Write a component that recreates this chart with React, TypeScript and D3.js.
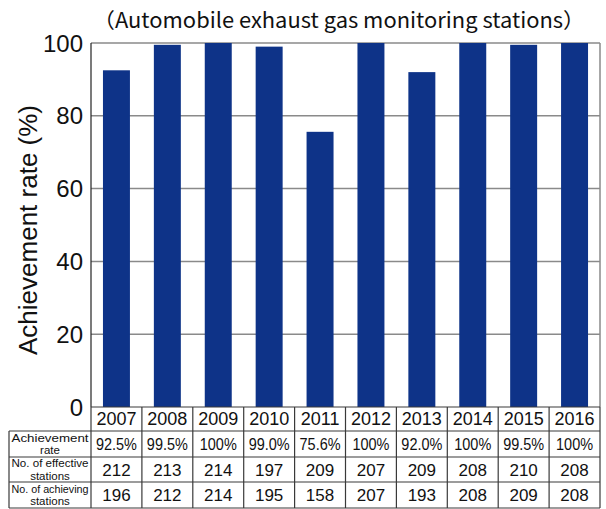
import React from "react";
import * as d3 from "d3";

const years = ["2007", "2008", "2009", "2010", "2011", "2012", "2013", "2014", "2015", "2016"];
const rates = [92.5, 99.5, 100, 99.0, 75.6, 100, 92.0, 100, 99.5, 100];
const rateLabels = ["92.5%", "99.5%", "100%", "99.0%", "75.6%", "100%", "92.0%", "100%", "99.5%", "100%"];
const effective = [212, 213, 214, 197, 209, 207, 209, 208, 210, 208];
const achieving = [196, 212, 214, 195, 158, 207, 193, 208, 209, 208];
const yTicks = [0, 20, 40, 60, 80, 100];
const title = "（Automobile exhaust gas monitoring stations）";
const yLabel = "Achievement rate (%)";
const rowLabels = [
  ["Achievement", "rate"],
  ["No. of effective", "stations"],
  ["No. of achieving", "stations"],
];

const W = 606;
const H = 509;
const L = 91;
const R = 600;
const T = 43;
const B = 407;
const BAR = "#0e3388";
const GRID = "#8a8a8a";
const LINE = "#3a3a3a";
const FONT = "'Liberation Sans', Arial, 'Noto Sans CJK JP', sans-serif";

export default function App() {
  const y = d3.scaleLinear().domain([0, 100]).range([B, T]);
  const pad = 0.47;
  const x = d3.scaleBand<string>().domain(years).range([L, R]).paddingInner(pad).paddingOuter(pad / 2);
  const col = d3.scaleBand<string>().domain(years).range([L, R]).padding(0);

  const rowEdges = [B, 431, 457, 482, 508];
  const dataRows = [rateLabels, effective.map(String), achieving.map(String)];

  return (
    <svg width={W} height={H} style={{ position: "absolute", left: 0, top: 0, background: "#fff" }} fontFamily={FONT}>
      <rect x={0} y={0} width={W} height={H} fill="#fff" />
      <text
        x={339}
        y={28}
        textAnchor="middle"
        fontSize={21}
        fill="#111"
        fontFamily="'Noto Sans CJK JP', sans-serif"
        textLength={492}
        lengthAdjust="spacingAndGlyphs"
      >
        {title}
      </text>
      {/* gridlines */}
      {yTicks.filter((t) => t > 0).map((t) => (
        <line key={t} x1={L} x2={R} y1={y(t)} y2={y(t)} stroke={GRID} strokeWidth={1.5} />
      ))}
      <line x1={R} x2={R} y1={T} y2={B} stroke={GRID} strokeWidth={1.5} />
      {/* bars */}
      {years.map((yr, i) => (
        <rect key={yr} x={x(yr)} y={y(rates[i])} width={x.bandwidth()} height={B - y(rates[i])} fill={BAR} />
      ))}
      {/* y axis */}
      <line x1={L} x2={L} y1={T} y2={B} stroke="#222" strokeWidth={1.2} />
      {yTicks.map((t) => (
        <text key={t} x={83} y={y(t)} dy="0.36em" textAnchor="end" fontSize={24} fill="#111">
          {t}
        </text>
      ))}
      <text
        transform={`translate(37,${230}) rotate(-90)`}
        textAnchor="middle"
        fontSize={26}
        fill="#111"
      >
        {yLabel}
      </text>
      {/* table */}
      <g stroke={LINE} strokeWidth={1.2} fill="none">
        <line x1={L} x2={R} y1={B} y2={B} />
        {rowEdges.slice(1).map((e) => (
          <line key={e} x1={9} x2={R} y1={e} y2={e} />
        ))}
        <line x1={9} x2={9} y1={rowEdges[1]} y2={rowEdges[4]} />
        {years.map((yr) => (
          <line key={yr} x1={col(yr)} x2={col(yr)} y1={B} y2={rowEdges[4]} />
        ))}
        <line x1={R} x2={R} y1={B} y2={rowEdges[4]} />
      </g>
      {years.map((yr) => (
        <text
          key={yr}
          x={(col(yr) as number) + col.bandwidth() / 2}
          y={(rowEdges[0] + rowEdges[1]) / 2}
          dy="0.36em"
          textAnchor="middle"
          fontSize={18}
          fill="#111"
        >
          {yr}
        </text>
      ))}
      {dataRows.map((row, r) =>
        row.map((v, i) => (
          <text
            key={`${r}-${i}`}
            x={(col(years[i]) as number) + col.bandwidth() / 2}
            y={(rowEdges[r + 1] + rowEdges[r + 2]) / 2}
            dy="0.36em"
            textAnchor="middle"
            fontSize={r === 0 ? 16.5 : 17}
            fill="#111"
            {...(r === 0 ? { textLength: v.length > 4 ? 41 : 37, lengthAdjust: "spacingAndGlyphs" } : {})}
          >
            {v}
          </text>
        ))
      )}
      {rowLabels.map((lines, r) => {
        const cy = (rowEdges[r + 1] + rowEdges[r + 2]) / 2;
        return lines.map((ln, k) => (
          <text
            key={`${r}-${k}`}
            x={50}
            y={cy + (k === 0 ? -6.3 : 6.3)}
            dy="0.36em"
            textAnchor="middle"
            fontSize={11.5}
            fill="#111"
            {...(ln.length > 10 ? { textLength: 77, lengthAdjust: "spacingAndGlyphs" } : {})}
          >
            {ln}
          </text>
        ));
      })}
    </svg>
  );
}
